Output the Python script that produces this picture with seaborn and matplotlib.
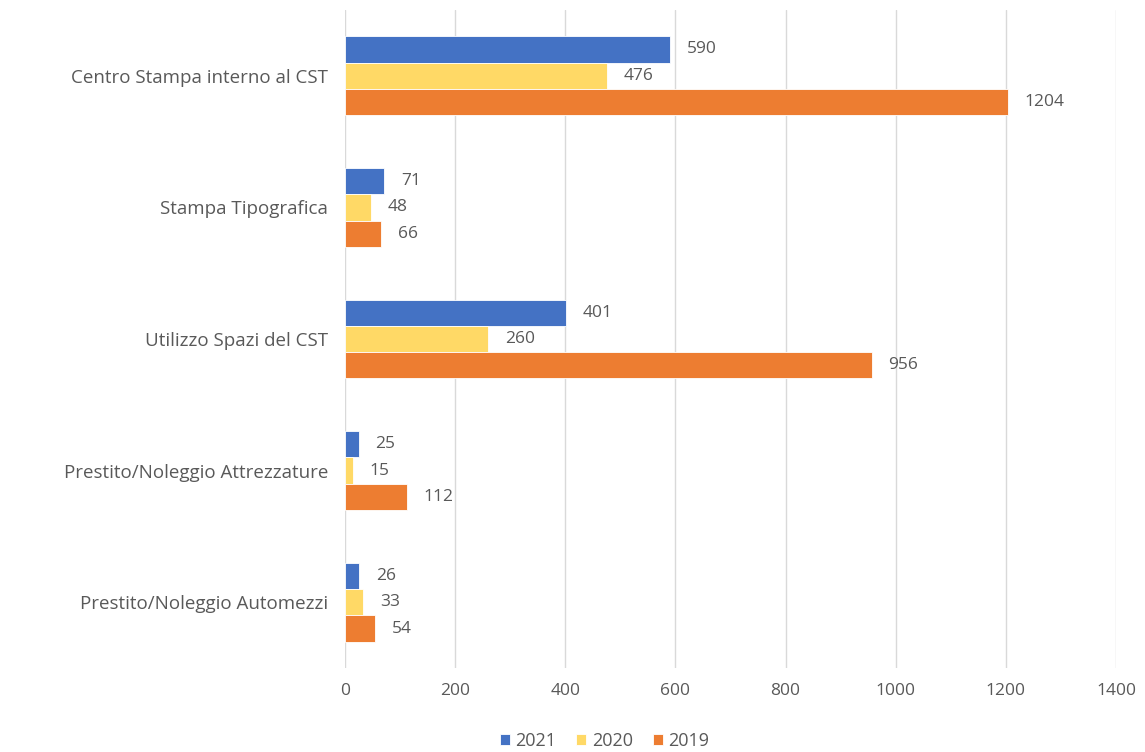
import matplotlib
matplotlib.use("Agg")
import matplotlib.pyplot as plt
import seaborn as sns
import pandas as pd

categories = [
    "Centro Stampa interno al CST",
    "Stampa Tipografica",
    "Utilizzo Spazi del CST",
    "Prestito/Noleggio Attrezzature",
    "Prestito/Noleggio Automezzi",
]
years = ["2021", "2020", "2019"]
values_2021 = [590, 71, 401, 25, 26]
values_2020 = [476, 48, 260, 15, 33]
values_2019 = [1204, 66, 956, 112, 54]
colors = ["#4472C4", "#FFD966", "#ED7D31"]

df = pd.DataFrame({
    "categoria": categories * 3,
    "anno": [y for y in years for _ in categories],
    "valore": values_2021 + values_2020 + values_2019,
})

sns.set_theme(style="white")
plt.rcParams["font.family"] = ["Open Sans", "DejaVu Sans"]
text_color = "#595959"

fig = plt.figure(figsize=(11.45, 7.52), dpi=100)
ax = fig.add_axes([0.3013, 0.1117, 0.6734, 0.875])

sns.barplot(
    data=df, y="categoria", x="valore", hue="anno",
    hue_order=years, palette=colors, orient="h",
    width=0.6, ax=ax, saturation=1, edgecolor="white", linewidth=0.6,
)

for container in ax.containers:
    ax.bar_label(container, padding=12, color=text_color, fontsize=12.5)

ax.set_xlim(0, 1400)
ax.set_xticks(range(0, 1401, 200))
ax.set_ylim(4.5, -0.5)
ax.set_xlabel("")
ax.set_ylabel("")
ax.grid(axis="x", color="#D9D9D9", linewidth=1)
ax.set_axisbelow(True)
for side in ["top", "right", "bottom", "left"]:
    ax.spines[side].set_visible(False)
ax.tick_params(axis="x", length=0, pad=11, labelsize=12.5, labelcolor=text_color)
ax.tick_params(axis="y", length=0, pad=12, labelsize=13.5, labelcolor=text_color)

handles, labels = ax.get_legend_handles_labels()
ax.legend(
    handles, labels, loc="center", bbox_to_anchor=(0.528, 0.015),
    bbox_transform=fig.transFigure,
    ncol=3, frameon=False, handlelength=0.55, handleheight=0.55,
    handletextpad=0.3, columnspacing=1.1, fontsize=13,
    labelcolor=text_color, borderaxespad=0, borderpad=0.1,
)

fig.savefig("out.png", dpi=100)
